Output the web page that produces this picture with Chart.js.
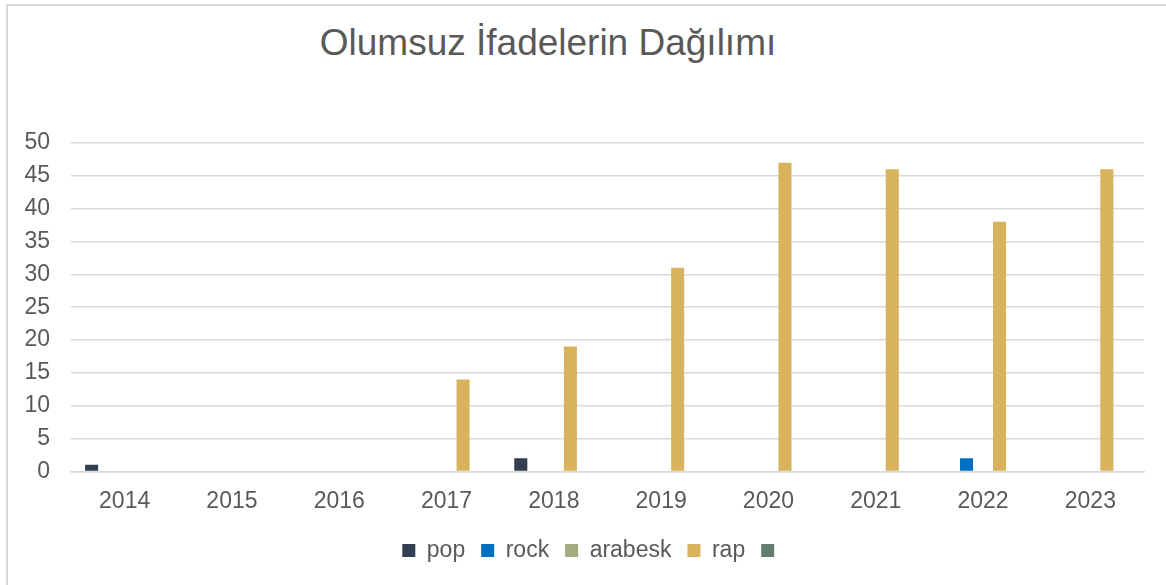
<!DOCTYPE html>
<html>
<head>
<meta charset="utf-8">
<script src="https://cdn.jsdelivr.net/npm/chart.js@4.4.0/dist/chart.umd.min.js"></script>
<style>
  html, body { margin: 0; padding: 0; background: #fff; }
  #wrap { position: relative; width: 1166px; height: 585px; overflow: hidden; }
  #frame { position: absolute; left: 6px; top: 4px; width: 1200px; height: 600px;
           border-left: 2px solid #d9d9d9; border-top: 2px solid #d9d9d9; }
  #title { position: absolute; left: 0; top: 22px; width: 1096px; text-align: center;
           font-family: "Liberation Sans", Arial, sans-serif; font-size: 37px; color: #595959; }
  canvas { position: absolute; left: 0; top: 0; }
</style>
</head>
<body>
<div id="wrap">
  <div id="frame"></div>
  <div id="title">Olumsuz İfadelerin Dağılımı</div>
  <canvas id="chart" width="1166" height="585"></canvas>
</div>
<script>
// Yıllar ve tür bazında olumsuz ifade sayıları
const years = ['2014', '2015', '2016', '2017', '2018', '2019', '2020', '2021', '2022', '2023'];
const pop     = [1, null, null, null, 2, null, null, null, null, null];
const rock    = [null, null, null, null, null, null, null, null, 2, null];
const arabesk = [null, null, null, null, null, null, null, null, null, null];
const rap     = [null, null, null, 14, 19, 31, 47, 46, 38, 46];
const other   = [null, null, null, null, null, null, null, null, null, null];
const yTicks  = [0, 5, 10, 15, 20, 25, 30, 35, 40, 45, 50];

const FONT = '"Liberation Sans", Arial, sans-serif';
const TEXT = '#595959';

function ds(label, data, color) {
  return { label: label, data: data, backgroundColor: color, borderWidth: 0,
           categoryPercentage: 0.77, barPercentage: 0.79 };
}

// lejantı biraz sağa kaydır (Excel'deki gibi ortalansın)
const legendShift = {
  id: 'legendShift',
  afterLayout(chart) {
    chart.legend.left += 22;
    chart.legend.right += 22;
  }
};

const ctx = document.getElementById('chart').getContext('2d');
new Chart(ctx, {
  type: 'bar',
  data: {
    labels: years,
    datasets: [
      ds('pop', pop, '#333f50'),
      ds('rock', rock, '#0070c0'),
      ds('arabesk', arabesk, '#a5ab81'),
      ds('rap', rap, '#d8b25c'),
      ds('', other, '#637e6c')
    ]
  },
  plugins: [legendShift],
  options: {
    responsive: false,
    devicePixelRatio: 1,
    animation: false,
    layout: { padding: { top: 143, right: 22, left: 0, bottom: 13 } },
    plugins: {
      title: { display: false },
      tooltip: { enabled: false },
      legend: {
        position: 'bottom',
        labels: { boxWidth: 13, boxHeight: 13, padding: 16, color: TEXT,
                  font: { family: FONT, size: 23 } }
      }
    },
    scales: {
      x: {
        grid: { display: false },
        border: { display: true, color: '#d9d9d9', width: 1.5 },
        ticks: { color: TEXT, padding: 8, font: { family: FONT, size: 23 } }
      },
      y: {
        min: 0, max: 50,
        afterFit: function(scale) { scale.width = 71; },
        afterBuildTicks: function(scale) { scale.ticks = yTicks.map(v => ({ value: v })); },
        grid: { color: '#d9d9d9', lineWidth: 1.5, drawTicks: false },
        border: { display: false },
        ticks: { color: TEXT, padding: 21, font: { family: FONT, size: 23 } }
      }
    }
  }
});
</script>
</body>
</html>
